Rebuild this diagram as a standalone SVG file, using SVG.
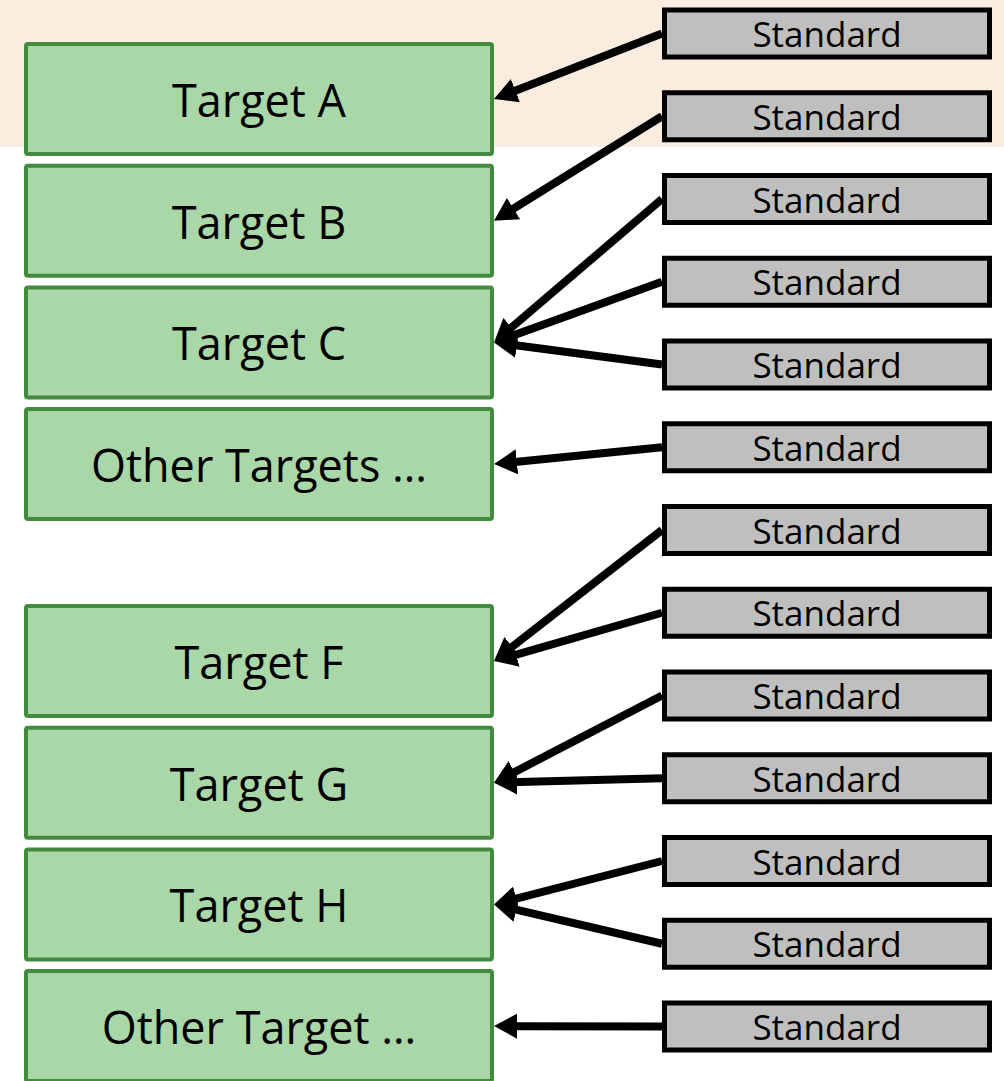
<svg xmlns="http://www.w3.org/2000/svg" width="1004" height="1081" viewBox="0 0 1004 1081">
  <style>
    .tgt rect { fill: #A9D7A8; stroke: #438A3F; stroke-width: 4; }
    .tgt text { font-family: "Open Sans", "Liberation Sans", sans-serif; font-size: 45px; fill: #000; text-anchor: middle; }
    .std rect { fill: #BFBFBF; stroke: #000; stroke-width: 5; }
    .std text { font-family: "Open Sans", "Liberation Sans", sans-serif; font-size: 35px; fill: #000; text-anchor: middle; }
    #connectors line { stroke: #000; stroke-width: 8; marker-end: url(#arrow); }
  </style>
  <defs>
    <marker id="arrow" markerUnits="userSpaceOnUse" markerWidth="23" markerHeight="25" viewBox="0 0 23 25" refX="7" refY="12.5" orient="auto">
      <path d="M0,0 L23,12.5 L0,25 z" fill="#000"/>
    </marker>
  </defs>
  <rect x="0" y="0" width="1004" height="147" fill="#FBECE0"/>

  <g id="target-a" class="tgt"><rect x="26" y="44" width="466" height="110" rx="2"/><text x="259" y="117">Target A</text></g>
  <g id="target-b" class="tgt"><rect x="26" y="165.7" width="466" height="110" rx="2"/><text x="259" y="238.7">Target B</text></g>
  <g id="target-c" class="tgt"><rect x="26" y="287.4" width="466" height="110" rx="2"/><text x="259" y="360.4">Target C</text></g>
  <g id="other-targets" class="tgt"><rect x="26" y="409.1" width="466" height="110" rx="2"/><text x="259" y="482.1">Other Targets …</text></g>
  <g id="target-f" class="tgt"><rect x="26" y="606" width="466" height="110" rx="2"/><text x="259" y="679">Target F</text></g>
  <g id="target-g" class="tgt"><rect x="26" y="727.7" width="466" height="110" rx="2"/><text x="259" y="800.7">Target G</text></g>
  <g id="target-h" class="tgt"><rect x="26" y="849.4" width="466" height="110" rx="2"/><text x="259" y="922.4">Target H</text></g>
  <g id="other-target" class="tgt"><rect x="26" y="971.1" width="466" height="110" rx="2"/><text x="259" y="1044.1">Other Target …</text></g>

  <g id="std-0" class="std"><rect x="664.5" y="10" width="325" height="47"/><text x="827" y="47">Standard</text></g>
  <g id="std-1" class="std"><rect x="664.5" y="92.75" width="325" height="47"/><text x="827" y="129.75">Standard</text></g>
  <g id="std-2" class="std"><rect x="664.5" y="175.5" width="325" height="47"/><text x="827" y="212.5">Standard</text></g>
  <g id="std-3" class="std"><rect x="664.5" y="258.25" width="325" height="47"/><text x="827" y="295.25">Standard</text></g>
  <g id="std-4" class="std"><rect x="664.5" y="341" width="325" height="47"/><text x="827" y="378">Standard</text></g>
  <g id="std-5" class="std"><rect x="664.5" y="423.75" width="325" height="47"/><text x="827" y="460.75">Standard</text></g>
  <g id="std-6" class="std"><rect x="664.5" y="506.5" width="325" height="47"/><text x="827" y="543.5">Standard</text></g>
  <g id="std-7" class="std"><rect x="664.5" y="589.25" width="325" height="47"/><text x="827" y="626.25">Standard</text></g>
  <g id="std-8" class="std"><rect x="664.5" y="672" width="325" height="47"/><text x="827" y="709">Standard</text></g>
  <g id="std-9" class="std"><rect x="664.5" y="754.75" width="325" height="47"/><text x="827" y="791.75">Standard</text></g>
  <g id="std-10" class="std"><rect x="664.5" y="837.5" width="325" height="47"/><text x="827" y="874.5">Standard</text></g>
  <g id="std-11" class="std"><rect x="664.5" y="920.25" width="325" height="47"/><text x="827" y="957.25">Standard</text></g>
  <g id="std-12" class="std"><rect x="664.5" y="1003" width="325" height="47"/><text x="827" y="1040">Standard</text></g>

  <g id="connectors">
    <line x1="662" y1="33.5" x2="508.9" y2="93.19"/>
    <line x1="662" y1="116.25" x2="507.6" y2="212.25"/>
    <line x1="662" y1="199" x2="506.2" y2="332.01"/>
    <line x1="662" y1="281.75" x2="509.05" y2="336.97"/>
    <line x1="662" y1="364.5" x2="509.86" y2="344.49"/>
    <line x1="662" y1="447.25" x2="509.92" y2="462.5"/>
    <line x1="662" y1="530" x2="506.62" y2="651.16"/>
    <line x1="662" y1="612.75" x2="509.38" y2="656.58"/>
    <line x1="662" y1="695.5" x2="508.2" y2="775.33"/>
    <line x1="662" y1="778.25" x2="509.99" y2="782.28"/>
    <line x1="662" y1="861" x2="509.49" y2="900.4"/>
    <line x1="662" y1="943.75" x2="509.58" y2="908.05"/>
    <line x1="662" y1="1026.5" x2="510" y2="1026.14"/>
  </g>
</svg>
